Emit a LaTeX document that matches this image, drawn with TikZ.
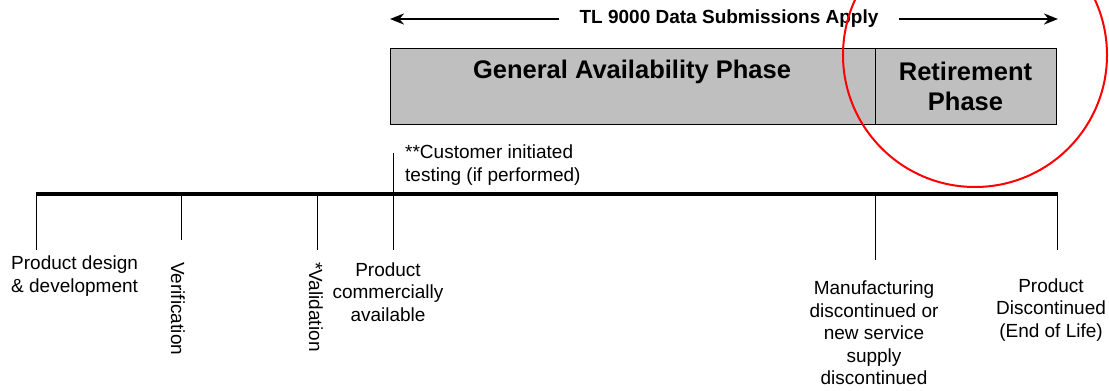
\documentclass[tikz,border=0pt]{standalone}
\usepackage{fontspec}
\setmainfont{Liberation Sans}
\usetikzlibrary{arrows.meta}
\tikzset{
	phasestyle/.style={rectangle,draw=black,fill=black!25,line width=1pt,outer sep=0pt,inner sep=0pt,align=center,font=\bfseries\fontsize{25.5}{30}\selectfont},
	labelstyle/.style={align=center,inner sep=0pt,font=\fontsize{19}{22.5}\selectfont},
	tickstyle/.style={draw=black,line width=1pt},
	spanstyle/.style={draw=black,line width=2.5pt,-{Stealth[length=14pt,width=11pt]}}
}
\begin{document}
\begin{tikzpicture}[x=1pt,y=-1pt]
	\useasboundingbox (0,0) rectangle (1109,391);
	% span of the data submissions
	\node[labelstyle,font=\bfseries\fontsize{19}{22.5}\selectfont,inner xsep=20pt] (span) at (729,19) {TL 9000 Data Submissions Apply};
	\coordinate (spanl) at (390,19);
	\coordinate (spanr) at (1058,19);
	\draw[spanstyle] (span) -- (spanl);
	\draw[spanstyle] (span) -- (spanr);
	% phases
	\node[phasestyle,minimum width=485pt,minimum height=76pt,anchor=north west] (ga) at (390,48) {};
	\node[labelstyle,font=\bfseries\fontsize{25.5}{30}\selectfont] (gatext) at (632,72) {General Availability Phase};
	\node[phasestyle,minimum width=181pt,minimum height=76pt,anchor=north west] (ret) at (875,48) {Retirement\\Phase};
	% time line
	\coordinate (tstart) at (36,194);
	\coordinate (tend) at (1058,194);
	\draw[line width=4pt] (tstart) -- (tend);
	\coordinate (tdesign) at (36,194);
	\coordinate (tverif) at (181,194);
	\coordinate (tvalid) at (317,194);
	\coordinate (tavail) at (393,153);
	\coordinate (tmfg) at (875,194);
	\coordinate (teol) at (1057,194);
	\draw[tickstyle] (tdesign) -- (36,250);
	\draw[tickstyle] (tverif) -- (181,240);
	\draw[tickstyle] (tvalid) -- (317,250);
	\draw[tickstyle] (tavail) -- (393,250);
	\draw[tickstyle] (tmfg) -- (875,260);
	\draw[tickstyle] (teol) -- (1057,250);
	% milestones
	\node[labelstyle,align=left,anchor=west] (design) at (11,276) {Product design\\\& development};
	\node[labelstyle,rotate=-90,anchor=west] (verif) at (178,262) {Verification};
	\node[labelstyle,rotate=-90,anchor=west] (valid) at (316,262) {*Validation};
	\node[labelstyle] (avail) at (388,292) {Product\\commercially\\available};
	\node[labelstyle,align=left,anchor=west] (cust) at (405,165) {**Customer initiated\\testing (if performed)};
	\node[labelstyle] (mfg) at (874,333) {Manufacturing\\discontinued or\\new service\\supply\\discontinued};
	\node[labelstyle] (eol) at (1051,310) {Product\\Discontinued\\(End of Life)};
	% highlight
	\begin{scope}
		\clip (0,0) rectangle (1109,391);
		\draw[red,line width=2pt] (975,55) circle[radius=132];
	\end{scope}
\end{tikzpicture}
\end{document}
